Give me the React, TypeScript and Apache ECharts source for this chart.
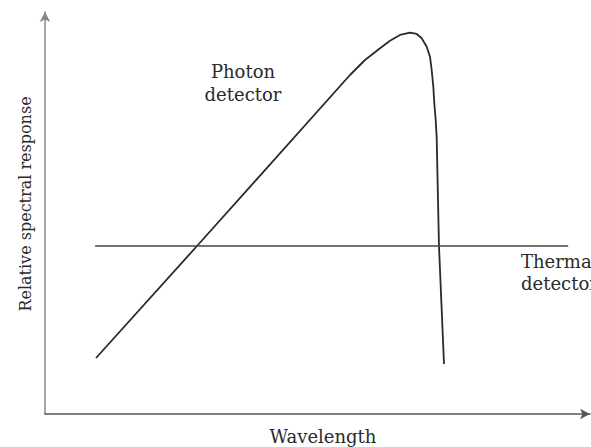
import React, { useEffect, useRef } from "react";
import * as echarts from "echarts";

// Photon detector response curve (wavelength %, response %)
const photonX = [9.36, 27.89, 55.96, 58.72, 61.47, 63.3, 65.14, 66.97, 68.2, 69.12, 70.04, 70.64, 70.95, 71.25, 71.43, 71.69, 71.87, 72.29, 73.21];
const photonY = [13.93, 41.79, 84.33, 88.06, 90.97, 92.86, 94.28, 94.85, 94.53, 93.46, 91.37, 88.88, 85.57, 81.42, 77.29, 73.13, 68.66, 41.79, 12.44];
// Thermal detector response (flat)
const thermalX = [9.2, 96.0];
const thermalY = [41.8, 41.8];

const xName = "Wavelength";
const yName = "Relative spectral response";
const photonLabel = "Photon\ndetector";
const thermalLabel = "Thermal\ndetector";

const FONT = "DejaVu Serif";

export default function App() {
  const ref = useRef<HTMLDivElement>(null);
  useEffect(() => {
    if (!ref.current) return;
    const chart = echarts.init(ref.current, null, { renderer: "svg" });
    chart.setOption({
      animation: false,
      backgroundColor: "#ffffff",
      grid: { left: 45, right: 1, top: 12, bottom: 33 },
      xAxis: {
        type: "value",
        min: 0,
        max: 100,
        axisLine: {
          show: true,
          symbol: ["none", "arrow"],
          symbolSize: [8, 10],
          lineStyle: { color: "#555", width: 1.5 },
        },
        axisTick: { show: false },
        axisLabel: { show: false },
        splitLine: { show: false },
      },
      yAxis: {
        type: "value",
        min: 0,
        max: 100,
        axisLine: {
          show: true,
          symbol: ["none", "arrow"],
          symbolSize: [8, 10],
          lineStyle: { color: "#888", width: 1.5 },
        },
        axisTick: { show: false },
        axisLabel: { show: false },
        splitLine: { show: false },
      },
      series: [
        {
          type: "line",
          data: photonX.map((x, i) => [x, photonY[i]]),
          smooth: false,
          showSymbol: false,
          lineStyle: { color: "#2a2a2a", width: 1.8, join: "round" },
        },
        {
          type: "line",
          data: thermalX.map((x, i) => [x, thermalY[i]]),
          showSymbol: false,
          lineStyle: { color: "#444", width: 1.5 },
        },
      ],
      graphic: [
        {
          type: "text",
          x: 25,
          y: 204,
          rotation: Math.PI / 2,
          style: {
            text: yName,
            font: `16px '${FONT}'`,
            fill: "#2a2a2a",
            textAlign: "center",
            textVerticalAlign: "middle",
          },
        },
        {
          type: "text",
          x: 323,
          y: 436,
          style: {
            text: xName,
            font: `18px '${FONT}'`,
            fill: "#2a2a2a",
            textAlign: "center",
            textVerticalAlign: "middle",
          },
        },
        {
          type: "text",
          x: 243,
          y: 60,
          style: {
            text: photonLabel,
            font: `18px '${FONT}'`,
            lineHeight: 23,
            fill: "#2a2a2a",
            textAlign: "center",
            textVerticalAlign: "top",
          },
        },
        {
          type: "text",
          x: 521,
          y: 250,
          style: {
            text: thermalLabel,
            font: `18px '${FONT}'`,
            lineHeight: 22,
            fill: "#2a2a2a",
            textAlign: "left",
            textVerticalAlign: "top",
          },
        },
      ],
    });
    return () => chart.dispose();
  }, []);
  return (
    <div
      ref={ref}
      style={{ position: "absolute", left: 0, top: 0, width: 591, height: 447 }}
    />
  );
}
